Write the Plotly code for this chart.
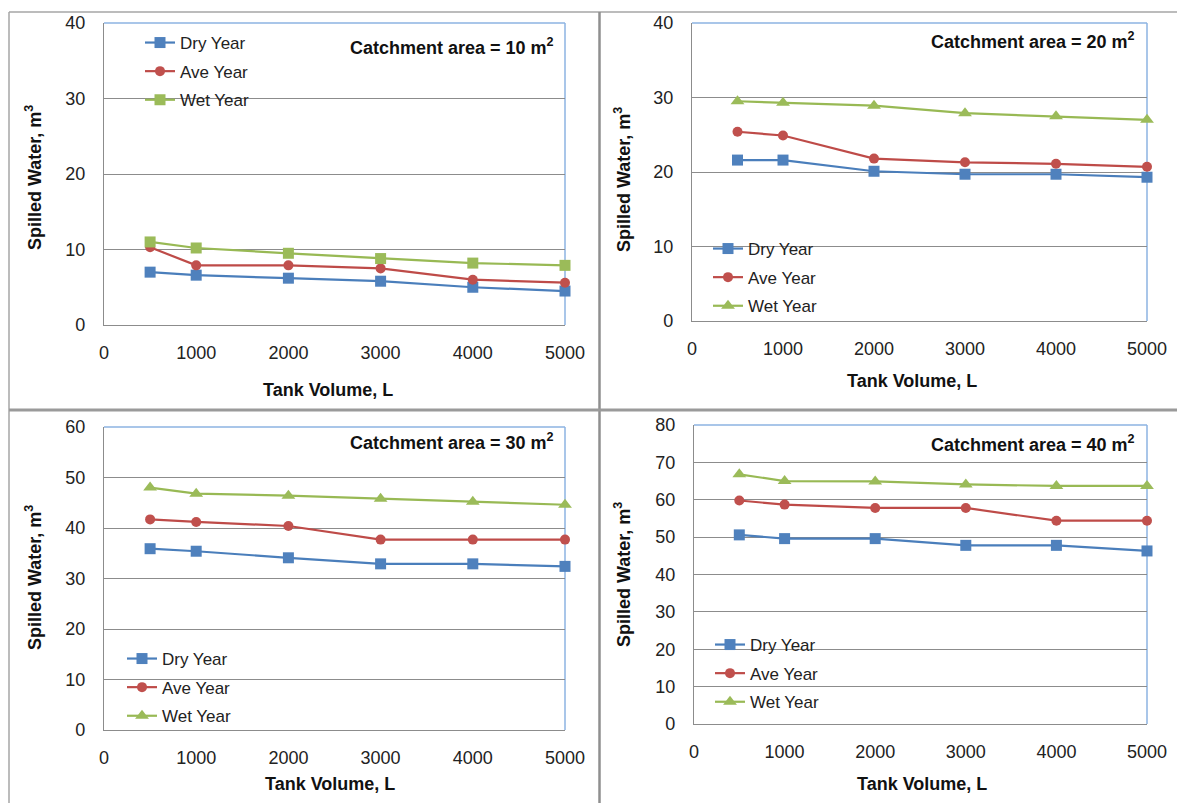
import plotly.graph_objects as go

W, H = 1177, 803

tank_volume = [500, 1000, 2000, 3000, 4000, 5000]
x_ticks = [0, 1000, 2000, 3000, 4000, 5000]

# Catchment area = 10 m2
dry_10 = [7.0, 6.6, 6.2, 5.8, 5.0, 4.5]
ave_10 = [10.3, 7.9, 7.9, 7.5, 6.0, 5.6]
wet_10 = [11.0, 10.2, 9.5, 8.8, 8.2, 7.9]
# Catchment area = 20 m2
dry_20 = [21.6, 21.6, 20.1, 19.7, 19.7, 19.3]
ave_20 = [25.4, 24.9, 21.8, 21.3, 21.1, 20.7]
wet_20 = [29.5, 29.3, 28.9, 27.9, 27.5, 27.0]
# Catchment area = 30 m2
dry_30 = [35.9, 35.4, 34.1, 32.9, 32.9, 32.4]
ave_30 = [41.7, 41.2, 40.4, 37.7, 37.7, 37.7]
wet_30 = [48.0, 46.8, 46.4, 45.8, 45.2, 44.6]
# Catchment area = 40 m2
dry_40 = [50.6, 49.6, 49.6, 47.8, 47.8, 46.3]
ave_40 = [59.8, 58.7, 57.8, 57.8, 54.4, 54.4]
wet_40 = [66.8, 65.0, 64.9, 64.1, 63.7, 63.7]

series_names = ["Dry Year", "Ave Year", "Wet Year"]
areas = ["10", "20", "30", "40"]
y_max = [40, 40, 60, 80]

BLUE, RED, GREEN = "#4A7EBB", "#BE4B48", "#98B954"
MBLUE, MRED, MGREEN = "#4F81BD", "#C0504D", "#9BBB59"
FONT = "Liberation Sans, Arial, sans-serif"
GRID = "#8C8C8C"

def px_x(p):
    return p / W

def px_y(p):
    return 1 - p / H

# plot areas in pixels: (left, right, top, bottom)
boxes = [
    (104, 565, 23, 325),
    (692, 1147, 23, 321),
    (104, 565, 427, 730),
    (694, 1147, 425, 724),
]
legend_pos = [(140, 25), (708, 231), (122, 641), (710, 627)]
ytitle_pos = [(33, 178), (622, 180), (33, 578), (622, 575)]
xtitle_pos = [(328, 390), (912, 381), (330, 784), (922, 784)]
catch_pos = [(556, 46), (1137, 41), (556, 441), (1137, 443)]

data = [
    (dry_10, ave_10, wet_10, "square"),
    (dry_20, ave_20, wet_20, "triangle-up"),
    (dry_30, ave_30, wet_30, "triangle-up"),
    (dry_40, ave_40, wet_40, "triangle-up"),
]

fig = go.Figure()
shapes = []
annotations = []
layout = {}

for i in range(4):
    k = i + 1
    xa = "x" if k == 1 else f"x{k}"
    ya = "y" if k == 1 else f"y{k}"
    lg = "legend" if k == 1 else f"legend{k}"
    dry, ave, wet, wsym = data[i]
    styles = [
        (dry, BLUE, MBLUE, "square", 11),
        (ave, RED, MRED, "circle", 10),
        (wet, GREEN, MGREEN, wsym, 12 if wsym != "square" else 11),
    ]
    for name, (vals, lc, mc, sym, ms) in zip(series_names, styles):
        fig.add_trace(go.Scatter(
            x=tank_volume, y=vals, name=name, mode="lines+markers",
            line=dict(color=lc, width=2.2),
            marker=dict(symbol=sym, size=ms, color=mc, line=dict(width=0)),
            xaxis=xa, yaxis=ya, legend=lg, legendgroup=f"{k}{name}",
            cliponaxis=False,
        ))
    l, r, t, b = boxes[i]
    xkey = "xaxis" if k == 1 else f"xaxis{k}"
    ykey = "yaxis" if k == 1 else f"yaxis{k}"
    layout[xkey] = dict(
        domain=[px_x(l), px_x(r)], range=[0, 5000], tickvals=x_ticks,
        showgrid=False, zeroline=False, showline=True, linecolor=GRID,
        linewidth=1.2, ticks="", anchor=ya, fixedrange=True,
        tickfont=dict(family=FONT, size=18, color="#222222"),
        ticklabelstandoff=11, automargin=False,
    )
    layout[ykey] = dict(
        domain=[px_y(b), px_y(t)], range=[0, y_max[i]], dtick=10,
        showgrid=True, gridcolor=GRID, gridwidth=1.2, zeroline=False,
        showline=True, linecolor=GRID, linewidth=1.2, ticks="",
        anchor=xa, fixedrange=True,
        tickfont=dict(family=FONT, size=18, color="#222222"),
        ticklabelstandoff=14, automargin=False,
    )
    lx, ly = legend_pos[i]
    layout[lg] = dict(
        x=px_x(lx), y=px_y(ly), xanchor="left", yanchor="top",
        bgcolor="rgba(0,0,0,0)", borderwidth=0,
        font=dict(family=FONT, size=17, color="#222222"),
        tracegroupgap=3.5, itemwidth=30,
    )
    # blue top and right border of plot area
    shapes.append(dict(type="line", xref="paper", yref="paper",
                       x0=px_x(l), x1=px_x(r), y0=px_y(t), y1=px_y(t),
                       line=dict(color="#8DB3E2", width=1.5), layer="between"))
    shapes.append(dict(type="line", xref="paper", yref="paper",
                       x0=px_x(r), x1=px_x(r), y0=px_y(t), y1=px_y(b),
                       line=dict(color="#8DB3E2", width=1.5), layer="between"))
    tx, ty = ytitle_pos[i]
    annotations.append(dict(
        x=px_x(tx), y=px_y(ty), xref="paper", yref="paper", showarrow=False,
        text="<b>Spilled Water, m<sup>3</sup></b>", textangle=-90,
        font=dict(family=FONT, size=18, color="#111111"),
        xanchor="center", yanchor="middle"))
    tx, ty = xtitle_pos[i]
    annotations.append(dict(
        x=px_x(tx), y=px_y(ty), xref="paper", yref="paper", showarrow=False,
        text="<b>Tank Volume, L</b>",
        font=dict(family=FONT, size=18, color="#111111"),
        xanchor="center", yanchor="middle"))
    tx, ty = catch_pos[i]
    annotations.append(dict(
        x=px_x(tx), y=px_y(ty), xref="paper", yref="paper", showarrow=False,
        text=f"<b>Catchment area = {areas[i]} m<sup>2</sup></b>",
        font=dict(family=FONT, size=18, color="#111111"),
        xanchor="right", yanchor="middle"))

# panel frame lines
frame = "#A6A6A6"
shapes += [
    dict(type="line", xref="paper", yref="paper", x0=px_x(9), x1=px_x(9),
         y0=px_y(12), y1=px_y(803), line=dict(color=frame, width=1.5)),
    dict(type="line", xref="paper", yref="paper", x0=px_x(9), x1=1,
         y0=px_y(12), y1=px_y(12), line=dict(color=frame, width=1.5)),
    dict(type="line", xref="paper", yref="paper", x0=px_x(599.5), x1=px_x(599.5),
         y0=px_y(12), y1=0, line=dict(color="#8F8F8F", width=2.5)),
    dict(type="line", xref="paper", yref="paper", x0=px_x(9), x1=1,
         y0=px_y(410), y1=px_y(410), line=dict(color="#9A9A9A", width=3)),
]

fig.update_layout(
    width=W, height=H,
    margin=dict(l=0, r=0, t=0, b=0, pad=0, autoexpand=False),
    paper_bgcolor="white", plot_bgcolor="white",
    shapes=shapes, annotations=annotations, showlegend=True,
    **layout,
)

fig.write_html(
    "out.html",
    config={"displayModeBar": False},
    post_script="document.body.style.margin='0';document.body.style.overflow='hidden';",
)
